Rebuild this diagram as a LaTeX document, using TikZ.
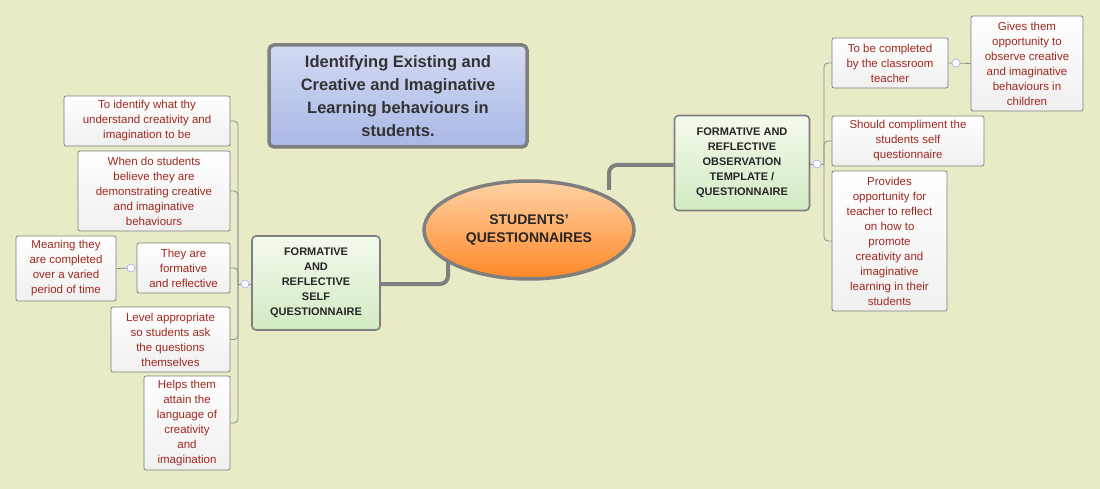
\documentclass[tikz,border=0pt]{standalone}
\usepackage{fontspec}
\setmainfont{Liberation Sans}
\usetikzlibrary{shapes.geometric,shadows}
\definecolor{bg}{HTML}{E9EBC7}
\definecolor{leaftxt}{HTML}{A0281E}
\definecolor{bordergrey}{HTML}{7F7F7F}
\definecolor{titletop}{HTML}{D3DAF2}
\definecolor{titlebot}{HTML}{A9B7E6}
\definecolor{greentop}{HTML}{F4FAEE}
\definecolor{greenbot}{HTML}{D2EAC2}
\tikzset{
  leaf/.style={draw=bordergrey, line width=0.8pt, rounded corners=2pt, top color=white, bottom color=gray!12, text=leaftxt, align=center, inner sep=0pt, font=\fontsize{11.5}{15}\selectfont},
  mainbox/.style={draw=bordergrey, line width=1.6pt, rounded corners=4pt, top color=greentop, bottom color=greenbot, text=black!85, align=center, inner sep=0pt, font=\bfseries\fontsize{11}{15}\selectfont},
  br/.style={draw=bordergrey!90, line width=0.8pt, rounded corners=4pt},
  thick link/.style={draw=bordergrey, line width=4pt, rounded corners=8pt},
  knob/.style={circle, draw=blue!40, fill=white, inner sep=0pt, minimum size=8pt, line width=0.5pt},
}
\begin{document}
\begin{tikzpicture}[x=1pt,y=-1pt]
\fill[bg] (0,0) rectangle (1100,489);
\useasboundingbox (0,0) rectangle (1100,489);
% title
\node[draw=bordergrey, line width=3.5pt, rounded corners=5pt, top color=titletop, bottom color=titlebot, minimum width=258, minimum height=102, align=center, inner sep=0pt, text=black!80, font=\bfseries\fontsize{16.5}{23}\selectfont] (T) at (398,96) {Identifying Existing and\\Creative and Imaginative\\Learning behaviours in\\students.};
% central
\node[ellipse, draw=bordergrey, line width=3.5pt, top color=orange!35!white, bottom color=orange!90!red!85, minimum width=210, minimum height=98, align=center, font=\bfseries\fontsize{14}{18}\selectfont, text=black!85] (C) at (529,230) {STUDENTS'\\QUESTIONNAIRES};
% main boxes
\node[mainbox, minimum width=128, minimum height=94] (LM) at (316,283) {FORMATIVE\\AND\\REFLECTIVE\\SELF\\QUESTIONNAIRE};
\node[mainbox, minimum width=135, minimum height=95] (RM) at (742,163) {FORMATIVE AND\\REFLECTIVE\\OBSERVATION\\TEMPLATE /\\QUESTIONNAIRE};
\draw[thick link] (448,262) -- (448,284) -- (LM.east |- 0,284);
\draw[thick link] (609,190) -- (609,165) -- (RM.west |- 0,165);
% left leaves
\node[leaf, minimum width=166, minimum height=50] (L1) at (147,121) {To identify what thy\\understand creativity and\\imagination to be};
\node[leaf, minimum width=152, minimum height=80] (L2) at (154,191) {When do students\\believe they are\\demonstrating creative\\and imaginative\\behaviours};
\node[leaf, minimum width=93, minimum height=50] (L3) at (183.5,268) {They are\\formative\\and reflective};
\node[leaf, minimum width=100, minimum height=65] (L3a) at (66,268.5) {Meaning they\\are completed\\over a varied\\period of time};
\node[leaf, minimum width=119, minimum height=65] (L4) at (170.5,339.5) {Level appropriate\\so students ask\\the questions\\themselves};
\node[leaf, minimum width=86, minimum height=94] (L5) at (187,423) {Helps them\\attain the\\language of\\creativity\\and\\imagination};
\coordinate (lb) at (238,284);
\node[knob] (kl) at (245,284) {};
\draw[br] (LM.west |- kl) -- (kl);
\draw[br] (kl) -- (lb);
\foreach \n in {L1,L2,L4,L5} \draw[br] (\n.east) -| (lb);
\draw[br] (L3.east) -| (lb);
\node[knob] (kl3) at (131,268) {};
\draw[br] (L3.west) -- (kl3) -- (L3a.east);
% right leaves
\node[leaf, minimum width=116, minimum height=50] (R1) at (890,63) {To be completed\\by the classroom\\teacher};
\node[leaf, minimum width=112, minimum height=95] (R1a) at (1027,63.5) {Gives them\\opportunity to\\observe creative\\and imaginative\\behaviours in\\children};
\node[leaf, minimum width=152, minimum height=50] (R2) at (908,141) {Should compliment the\\students self\\questionnaire};
\node[leaf, minimum width=115, minimum height=140] (R3) at (889.5,241) {Provides\\opportunity for\\teacher to reflect\\on how to\\promote\\creativity and\\imaginative\\learning in their\\students};
\coordinate (rb) at (824,164);
\node[knob] (kr) at (817,164) {};
\draw[br] (RM.east |- kr) -- (kr) -- (rb);
\draw[br] (R1.west) -| (rb);
\draw[br] (R2.west) -| (rb);
\draw[br] (R3.west) -| (rb);
\node[knob] (kr1) at (956,63) {};
\draw[br] (R1.east) -- (kr1) -- (R1a.west);
\end{tikzpicture}
\end{document}
